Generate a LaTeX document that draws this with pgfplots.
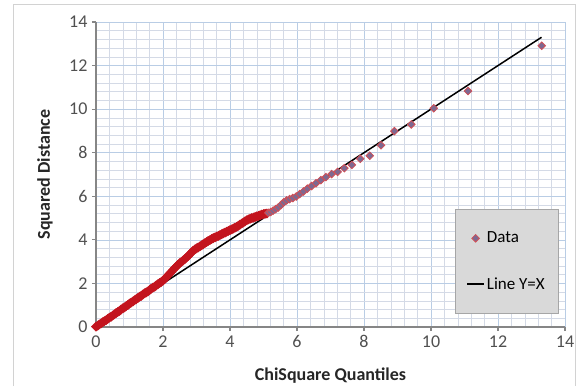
\documentclass[border=0pt]{standalone}
\usepackage{pgfplots}
\pgfplotsset{compat=1.18}
\usepackage{fontspec}
\setmainfont{Carlito}
\definecolor{majgrid}{RGB}{185,205,229}
\definecolor{mingrid}{RGB}{212,218,230}
\definecolor{axgray}{RGB}{134,134,134}
\definecolor{tickgray}{RGB}{80,80,80}
\definecolor{dred}{RGB}{195,20,30}
\definecolor{dpurp}{RGB}{125,105,145}
\definecolor{leggray}{RGB}{217,217,217}
\begin{document}
\begin{tikzpicture}
\path[use as bounding box] (0pt,0pt) rectangle (584pt,386pt);
\draw[gray!35, line width=0.8pt] (13.5pt,0pt) -- (13.5pt,381.5pt) -- (575.5pt,381.5pt) -- (575.5pt,0pt);
\begin{axis}[
  at={(96pt,59pt)}, anchor=south west,
  scale only axis, width=469pt, height=305pt,
  xmin=0, xmax=14, ymin=0, ymax=14,
  xtick distance=2, ytick distance=2,
  minor tick num=4,
  grid=both,
  major grid style={color=majgrid, line width=0.6pt},
  minor grid style={color=mingrid, line width=0.5pt},
  axis x line*=bottom, axis y line*=left,
  axis line style={color=axgray, line width=1.4pt},
  tick align=outside, major tick length=4pt, minor tick length=0pt,
  tick style={color=axgray, line width=1.2pt},
  /pgf/number format/assume math mode=true,
  tick label style={font=\fontsize{18}{20}\selectfont, color=tickgray},
  xticklabel style={yshift=-1pt},
  yticklabel style={xshift=-1pt},
  xlabel={\textbf{ChiSquare Quantiles}},
  ylabel={\textbf{Squared Distance}},
  label style={font=\fontsize{18}{21}\selectfont, color=black!85},
  xlabel style={at={(axis description cs:0.5,-0.158)}, anchor=center},
  ylabel style={at={(axis description cs:-0.109,0.5)}, anchor=center},
  legend style={at={(0.985,0.043)}, anchor=south east, fill=leggray, draw=gray!70,
    font=\fontsize{17}{19}\selectfont, inner xsep=11pt, inner ysep=21pt, row sep=29pt,
    cells={anchor=west}},
  legend cell align=left,
]
\addplot[black, line width=1.5pt, forget plot] coordinates {(0,0) (13.3,13.3)};
\addplot[only marks, mark=square*, mark size=3.2pt, mark options={rotate=45, draw=dred, fill=dred, line width=0.6pt}, forget plot] table {
x y
0.00 0.02
0.05 0.06
0.10 0.12
0.15 0.16
0.20 0.22
0.25 0.27
0.30 0.31
0.35 0.37
0.40 0.43
0.45 0.47
0.50 0.53
0.55 0.58
0.60 0.64
0.65 0.69
0.70 0.74
0.75 0.80
0.80 0.86
0.85 0.90
0.90 0.96
0.95 1.01
1.00 1.07
1.05 1.12
1.10 1.17
1.15 1.23
1.20 1.28
1.25 1.33
1.30 1.39
1.35 1.43
1.40 1.49
1.45 1.55
1.50 1.59
1.55 1.63
1.60 1.70
1.65 1.76
1.70 1.81
1.75 1.85
1.80 1.91
1.85 1.97
1.90 2.02
1.95 2.07
2.00 2.13
2.05 2.20
2.10 2.28
2.15 2.37
2.20 2.45
2.25 2.53
2.30 2.62
2.35 2.70
2.40 2.78
2.45 2.86
2.50 2.93
2.55 2.99
2.60 3.05
2.65 3.12
2.70 3.19
2.75 3.26
2.80 3.34
2.85 3.42
2.90 3.50
2.95 3.56
3.00 3.61
3.05 3.65
3.10 3.70
3.15 3.75
3.20 3.80
3.25 3.85
3.30 3.90
3.35 3.95
3.40 3.99
3.45 4.04
3.50 4.08
3.55 4.11
3.60 4.15
3.65 4.18
3.70 4.22
3.75 4.26
3.80 4.30
3.85 4.33
3.90 4.37
3.95 4.41
4.00 4.45
4.05 4.48
4.10 4.52
4.15 4.56
4.20 4.60
4.25 4.65
4.30 4.70
4.35 4.75
4.40 4.80
4.45 4.85
4.50 4.90
4.55 4.94
4.60 4.97
4.65 5.00
4.70 5.02
4.75 5.05
4.80 5.08
4.85 5.10
4.90 5.13
4.95 5.16
5.00 5.18
5.05 5.20
5.10 5.21
};
\addplot[only marks, mark=square*, mark size=2.7pt, mark options={rotate=45, draw=dred!75, fill=dpurp, line width=0.8pt}] table {
x y
5.148 5.24
5.217 5.28
5.288 5.34
5.362 5.41
5.440 5.49
5.520 5.60
5.603 5.72
5.690 5.81
5.781 5.87
5.876 5.92
5.976 5.99
6.081 6.10
6.192 6.22
6.310 6.35
6.435 6.47
6.568 6.60
6.711 6.74
6.865 6.88
7.032 7.02
7.214 7.12
7.414 7.29
7.637 7.44
7.887 7.72
8.173 7.86
8.507 8.34
8.909 8.99
9.411 9.30
10.084 10.04
11.106 10.83
13.303 12.91
};
\addlegendentry{Data}
\addlegendimage{black, line width=1.5pt}
\addlegendentry{Line Y=X}
\end{axis}
\end{tikzpicture}
\end{document}
